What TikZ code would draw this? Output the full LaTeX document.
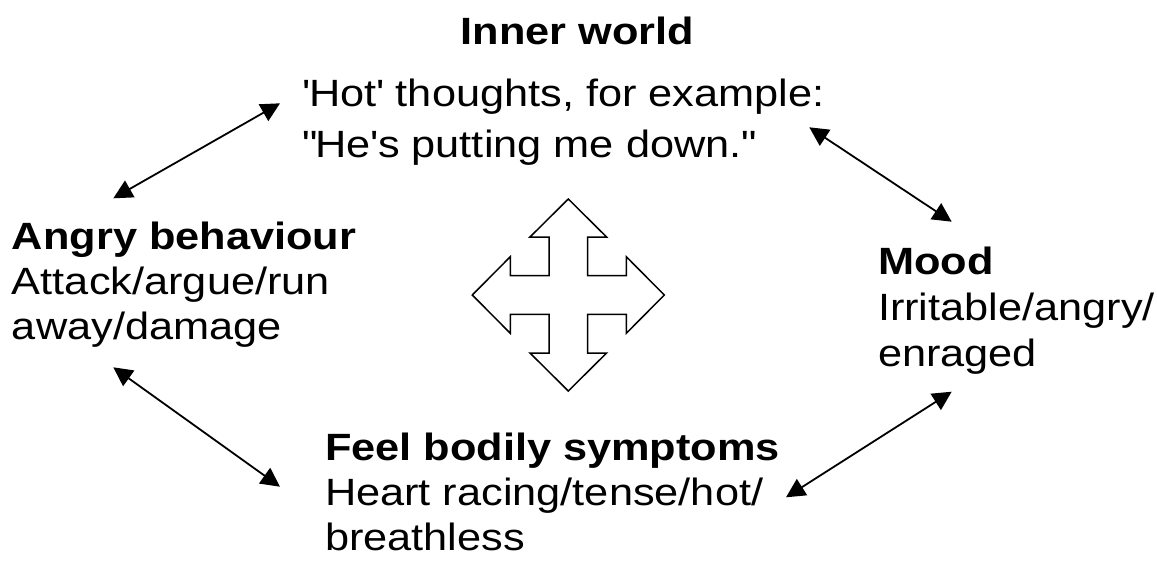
\documentclass[tikz,border=0pt]{standalone}
\usepackage{fontspec}
\setmainfont{Liberation Sans}[FakeStretch=1.14]
\usetikzlibrary{arrows.meta}
\tikzset{
  txt/.style={inner sep=0pt, outer sep=0pt, anchor=base west, font=\fontsize{38}{45}\selectfont},
  link/.style={line width=1.8pt, {Triangle[length=19pt,width=19pt]}-{Triangle[length=19pt,width=19pt]}},
  cross/.style={line width=1.5pt, line join=miter, fill=white}
}
\begin{document}
\begin{tikzpicture}[x=1pt,y=-1pt]
\useasboundingbox (0,0) rectangle (1157,566);
% titles and texts
\node[txt, anchor=base] (inner) at (577.5,44) {\bfseries Inner world};
\node[txt, font=\fontsize{38}{51}\selectfont] (hot) at (302,106)
  {\begin{tabular}[t]{@{}l@{}}\textquotesingle Hot\textquotesingle{} thoughts, for example:\\\textquotedbl He\textquotesingle s putting me down.\textquotedbl\end{tabular}};
\node[txt] (angry) at (12,249)
  {\begin{tabular}[t]{@{}l@{}}\bfseries Angry behaviour\\Attack/argue/run\\away/damage\end{tabular}};
\node[txt, font=\fontsize{38}{46}\selectfont] (mood) at (878,274)
  {\begin{tabular}[t]{@{}l@{}}\bfseries Mood\\Irritable/angry/\\enraged\end{tabular}};
\node[txt] (feel) at (325,460)
  {\begin{tabular}[t]{@{}l@{}}\bfseries Feel bodily symptoms\\Heart racing/tense/hot/\\breathless\end{tabular}};
% arrow end points
\coordinate (a1) at (113.3,198.3);
\coordinate (b1) at (280,103.3);
\coordinate (a2) at (113.3,367.3);
\coordinate (b2) at (280,486.7);
\coordinate (a3) at (809.3,127.3);
\coordinate (b3) at (951.7,221.7);
\coordinate (a4) at (786,497.3);
\coordinate (b4) at (951.7,391.7);
\draw[link] (a1) -- (b1);
\draw[link] (a2) -- (b2);
\draw[link] (a3) -- (b3);
\draw[link] (a4) -- (b4);
% central four-way arrow
\coordinate (c) at (568.3,295);
\draw[cross, shift={(c)}]
  (0,-96) -- (38.3,-58) -- (19.3,-58) -- (19.3,-19.3) -- (58,-19.3) -- (58,-38.3) --
  (96,0) -- (58,38.3) -- (58,19.3) -- (19.3,19.3) -- (19.3,58) -- (38.3,58) --
  (0,96) -- (-38.3,58) -- (-19.3,58) -- (-19.3,19.3) -- (-58,19.3) -- (-58,38.3) --
  (-96,0) -- (-58,-38.3) -- (-58,-19.3) -- (-19.3,-19.3) -- (-19.3,-58) -- (-38.3,-58) -- cycle;
\end{tikzpicture}
\end{document}
